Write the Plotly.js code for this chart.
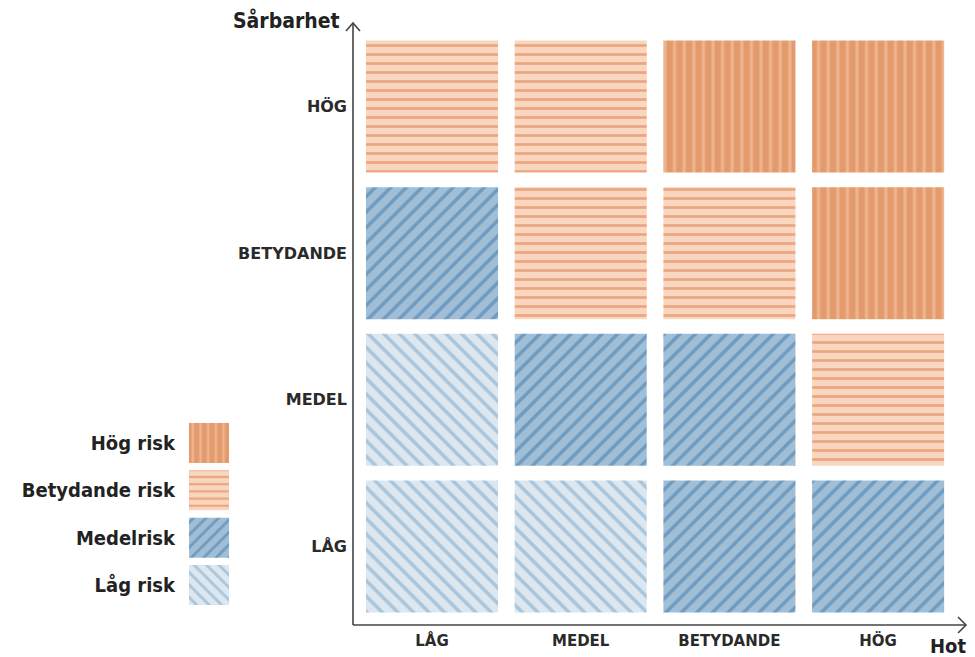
<!DOCTYPE html>
<html>
<head>
<meta charset="utf-8">
<script src="https://cdn.plot.ly/plotly-3.0.1.min.js"></script>
<style>html,body{margin:0;padding:0;background:#fff;}#chart{width:975px;height:657px;}</style>
</head>
<body>
<div id="chart"></div>
<script>
// ---- data ----
const hotLabels = ['LÅG', 'MEDEL', 'BETYDANDE', 'HÖG'];          // x (Hot)
const sarLabels = ['LÅG', 'MEDEL', 'BETYDANDE', 'HÖG'];          // y (Sårbarhet)
const riskLevels = ['Låg risk', 'Medelrisk', 'Betydande risk', 'Hög risk'];
// rows: Sårbarhet LÅG..HÖG, columns: Hot LÅG..HÖG, values: index in riskLevels
const riskMatrix = [
  [0, 0, 1, 1],
  [0, 1, 1, 2],
  [1, 2, 2, 3],
  [2, 2, 3, 3]
];

// ---- styles ----
const styles = [
  {shape: '\\', bg: '#DCE7EF', fg: '#A9C5DB', size: 11, sol: 0.32},
  {shape: '/',  bg: '#A0BFD7', fg: '#6F9BC0', size: 11, sol: 0.32},
  {shape: '-',  bg: '#F8D6BF', fg: '#EBA67F', size: 9,  sol: 0.3},
  {shape: '|',  bg: '#E39B6D', fg: '#EEB48E', size: 9.6, sol: 0.33}
];
const W = 975, H = 657, ML = 0, MR = 9, MT = 23, MB = 32;
const PW = W - ML - MR, PH = H - MT - MB;
const px = x => (x - ML) / PW;
const py = y => (H - MB - y) / PH;

const FONT_T = 'DejaVu Sans, sans-serif';
const FONT_C = 'DejaVu Sans Condensed, DejaVu Sans, sans-serif';

const traces = [];
styles.forEach((st, k) => {
  const xs = [], bases = [], hs = [];
  riskMatrix.forEach((row, r) => row.forEach((lv, c) => {
    if (lv === k) { xs.push(c); bases.push(r - 0.45); hs.push(0.9); }
  }));
  traces.push({
    type: 'bar', x: xs, y: hs, base: bases, width: 0.888,
    xaxis: 'x', yaxis: 'y', hoverinfo: 'skip', showlegend: false,
    marker: {color: st.bg, line: {width: 0},
      pattern: {shape: st.shape, fgcolor: st.fg, bgcolor: st.bg, size: st.size, solidity: st.sol, fillmode: 'replace'}}
  });
  // legend swatch
  traces.push({
    type: 'bar', x: [0], y: [0.845], base: [k - 0.4225], width: 1,
    xaxis: 'x2', yaxis: 'y2', hoverinfo: 'skip', showlegend: false,
    marker: {color: st.bg, line: {width: 0},
      pattern: {shape: st.shape, fgcolor: st.fg, bgcolor: st.bg, size: st.size * 0.8, solidity: st.sol, fillmode: 'replace'}}
  });
});

const axCol = '#444';
const shapes = [
  {type: 'line', xref: 'paper', yref: 'paper', x0: px(353), x1: px(353), y0: py(625), y1: py(23), line: {color: axCol, width: 1.6}},
  {type: 'line', xref: 'paper', yref: 'paper', x0: px(353), x1: px(966), y0: py(625), y1: py(625), line: {color: axCol, width: 1.6}},
  {type: 'path', xref: 'paper', yref: 'paper',
   path: `M ${px(346)},${py(31)} L ${px(353)},${py(23)} L ${px(360)},${py(31)}`, line: {color: axCol, width: 1.6}},
  {type: 'path', xref: 'paper', yref: 'paper',
   path: `M ${px(958)},${py(617)} L ${px(966)},${py(625)} L ${px(958)},${py(633)}`, line: {color: axCol, width: 1.6}}
];

const layout = {
  width: W, height: H,
  margin: {l: ML, r: MR, t: MT, b: MB},
  paper_bgcolor: '#fff', plot_bgcolor: 'rgba(0,0,0,0)',
  barmode: 'overlay', showlegend: false,
  xaxis: {domain: [px(353), 1], range: [-0.5313, 3.591], tickvals: [0, 1, 2, 3], ticktext: hotLabels,
    showgrid: false, zeroline: false, showline: false, ticks: '', ticklabelstandoff: 5, fixedrange: true,
    tickfont: {family: FONT_T, size: 15, weight: 'bold', color: '#2a2a2a'}},
  yaxis: {domain: [0, 1], range: [-0.535, 3.569], tickvals: [0, 1, 2, 3], ticktext: sarLabels,
    showgrid: false, zeroline: false, showline: false, ticks: '', ticklabelstandoff: 5, fixedrange: true,
    tickfont: {family: FONT_T, size: 16, weight: 'bold', color: '#2a2a2a'}},
  xaxis2: {domain: [px(189), px(229)], range: [-0.5, 0.5], anchor: 'y2', visible: false, fixedrange: true},
  yaxis2: {domain: [py(605), py(423)], range: [-0.4225, 3.4225], anchor: 'x2', tickvals: [0, 1, 2, 3], ticktext: riskLevels,
    showgrid: false, zeroline: false, showline: false, ticks: '', ticklabelstandoff: 13, fixedrange: true,
    tickfont: {family: FONT_C, size: 20, weight: 'bold', color: '#222'}},
  shapes: shapes,
  annotations: [
    {text: 'Sårbarhet', xref: 'paper', yref: 'paper', x: px(286), y: py(20), xanchor: 'center', yanchor: 'middle',
     showarrow: false, font: {family: FONT_C, size: 21, weight: 'bold', color: '#222'}},
    {text: 'Hot', xref: 'paper', yref: 'paper', x: px(948), y: py(646), xanchor: 'center', yanchor: 'middle',
     showarrow: false, font: {family: FONT_C, size: 20, weight: 'bold', color: '#222'}}
  ]
};

Plotly.newPlot('chart', traces, layout, {displayModeBar: false, staticPlot: true});
</script>
</body>
</html>
